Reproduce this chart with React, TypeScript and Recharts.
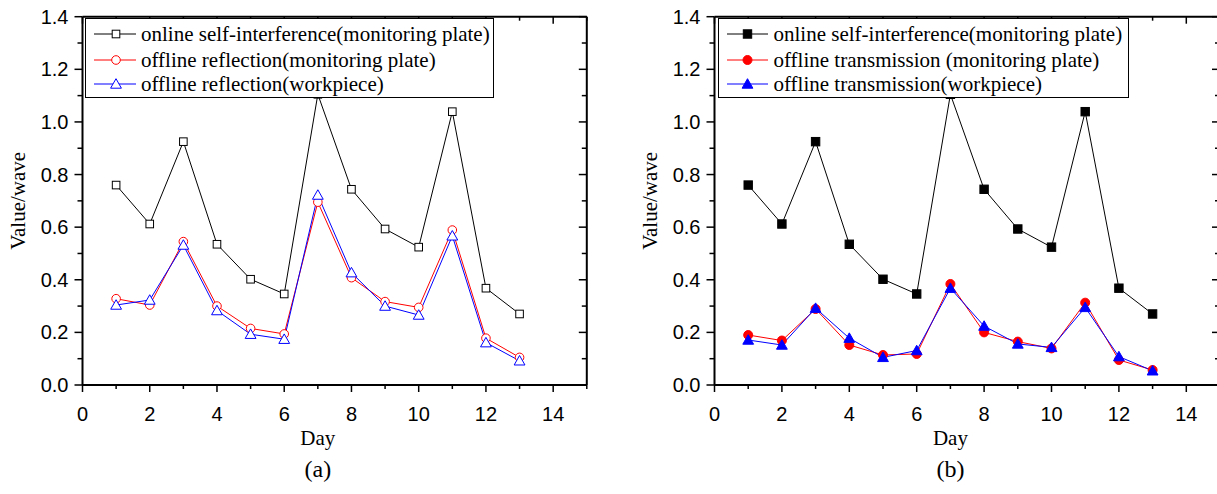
import React from 'react';
import { LineChart, Line, XAxis, YAxis, Legend, Label } from 'recharts';

const days = [1, 2, 3, 4, 5, 6, 7, 8, 9, 10, 11, 12, 13];
const onlineSelf = [0.76, 0.612, 0.925, 0.535, 0.402, 0.346, 1.105, 0.744, 0.593, 0.524, 1.039, 0.368, 0.27];
const reflMonitor = [0.328, 0.304, 0.545, 0.3, 0.215, 0.194, 0.695, 0.408, 0.317, 0.295, 0.589, 0.178, 0.105];
const reflWork = [0.304, 0.323, 0.532, 0.283, 0.193, 0.174, 0.722, 0.427, 0.3, 0.266, 0.567, 0.161, 0.092];
const transMonitor = [0.19, 0.169, 0.289, 0.152, 0.114, 0.118, 0.384, 0.2, 0.165, 0.139, 0.313, 0.095, 0.057];
const transWork = [0.171, 0.152, 0.292, 0.178, 0.105, 0.131, 0.368, 0.224, 0.156, 0.143, 0.295, 0.108, 0.054];

const xTicks = [0, 1, 2, 3, 4, 5, 6, 7, 8, 9, 10, 11, 12, 13, 14, 15];
const yTicks = [0, 0.1, 0.2, 0.3, 0.4, 0.5, 0.6, 0.7, 0.8, 0.9, 1.0, 1.1, 1.2, 1.3, 1.4];

const legendA = [
  'online self-interference(monitoring plate)',
  'offline reflection(monitoring plate)',
  'offline reflection(workpiece)',
];
const legendB = [
  'online self-interference(monitoring plate)',
  'offline transmission (monitoring plate)',
  'offline transmission(workpiece)',
];

const dataA = days.map((d, i) => ({ day: d, s1: onlineSelf[i], s2: reflMonitor[i], s3: reflWork[i] }));
const dataB = days.map((d, i) => ({ day: d, s1: onlineSelf[i], s2: transMonitor[i], s3: transWork[i] }));

const SANS = "'Liberation Sans', Arial, sans-serif";
const SERIF = "'Liberation Serif', 'Times New Roman', serif";
const COLORS = ['#000000', '#ff0000', '#0000ff'];
const SHAPES = ['square', 'circle', 'triangle'];

function Marker({ shape, color, filled, cx, cy }: any) {
  if (cx == null || cy == null) return null;
  const fill = filled ? color : '#ffffff';
  if (shape === 'square') {
    const h = filled ? 4.2 : 3.8;
    return <rect x={cx - h} y={cy - h} width={2 * h} height={2 * h} fill={fill} stroke={color} strokeWidth={1} />;
  }
  if (shape === 'circle') {
    return <circle cx={cx} cy={cy} r={filled ? 4.5 : 4.3} fill={fill} stroke={color} strokeWidth={1} />;
  }
  const w = 5.4;
  return (
    <polygon
      points={`${cx},${cy - 5.3} ${cx - w},${cy + 4.2} ${cx + w},${cy + 4.2}`}
      fill={fill}
      stroke={color}
      strokeWidth={1}
    />
  );
}

const isMajorX = (v: number) => v % 2 === 0;
const isMajorY = (v: number) => Math.round(v * 10) % 2 === 0;

const BottomTick = (p: any) => {
  const v = p.payload.value;
  const major = isMajorX(v);
  return (
    <g>
      <line x1={p.x} y1={p.y} x2={p.x} y2={p.y + (major ? 7 : 4)} stroke="#000" strokeWidth={1.5} />
      {major && v <= 14 ? (
        <text x={p.x} y={p.y + 29} textAnchor="middle" dominantBaseline="central" fontFamily={SANS} fontSize={20} fill="#000">
          {v}
        </text>
      ) : null}
    </g>
  );
};
const TopTick = (p: any) => {
  const major = isMajorX(p.payload.value);
  return <line x1={p.x} y1={p.y} x2={p.x} y2={p.y + (major ? 7 : 4)} stroke="#000" strokeWidth={1.5} />;
};
const LeftTick = (p: any) => {
  const v = p.payload.value;
  const major = isMajorY(v);
  return (
    <g>
      <line x1={p.x} y1={p.y} x2={p.x - (major ? 8 : 5)} y2={p.y} stroke="#000" strokeWidth={1.5} />
      {major ? (
        <text x={p.x - 14} y={p.y} textAnchor="end" dominantBaseline="central" fontFamily={SANS} fontSize={20} fill="#000">
          {v.toFixed(1)}
        </text>
      ) : null}
    </g>
  );
};
const RightTick = (p: any) => {
  const major = isMajorY(p.payload.value);
  return <line x1={p.x} y1={p.y} x2={p.x - (major ? 8 : 5)} y2={p.y} stroke="#000" strokeWidth={1.5} />;
};

function LegendBox({ labels, filled, width, sampleX0, sampleX1, markerX, textX }: any) {
  const rows = [15, 41, 65];
  return (
    <div
      style={{
        position: 'relative',
        width,
        height: 80,
        border: '1px solid #000',
        background: '#fff',
        boxSizing: 'border-box',
      }}
    >
      {labels.map((t: string, i: number) => (
        <div key={i} style={{ position: 'absolute', left: 0, top: rows[i] - 13, height: 26, width: '100%' }}>
          <svg width={textX} height={26} style={{ position: 'absolute', left: 0, top: 0 }}>
            <line x1={sampleX0} y1={13} x2={sampleX1} y2={13} stroke={COLORS[i]} strokeWidth={1} />
            <Marker shape={SHAPES[i]} color={COLORS[i]} filled={filled} cx={markerX} cy={13} />
          </svg>
          <span
            style={{
              position: 'absolute',
              left: textX,
              top: 0,
              lineHeight: '26px',
              fontFamily: SERIF,
              fontSize: 21,
              whiteSpace: 'nowrap',
              color: '#000',
            }}
          >
            {t}
          </span>
        </div>
      ))}
    </div>
  );
}

function Panel({ data, labels, filled, caption, width, margin, legendLeft, legendWidth, sample }: any) {
  return (
    <LineChart width={width} height={494} data={data} margin={margin}>
      <XAxis
        xAxisId="b"
        type="number"
        dataKey="day"
        domain={[0, 15]}
        ticks={xTicks}
        interval={0}
        height={1}
        tickSize={0}
        tickMargin={0}
        tick={BottomTick}
        tickLine={false}
        axisLine={{ stroke: '#000', strokeWidth: 2 }}
        allowDataOverflow
      >
        <Label
          content={(lp: any) => {
            const vb = lp.viewBox;
            const cx = vb.x + (vb.width * 7) / 15;
            return (
              <g>
                <text x={cx} y={vb.y + 53} textAnchor="middle" dominantBaseline="central" fontFamily={SERIF} fontSize={21} fill="#000">
                  Day
                </text>
                <text x={cx} y={vb.y + 84} textAnchor="middle" dominantBaseline="central" fontFamily={SERIF} fontSize={24} fill="#000">
                  {caption}
                </text>
              </g>
            );
          }}
        />
      </XAxis>
      <XAxis
        xAxisId="t"
        orientation="top"
        type="number"
        dataKey="day"
        domain={[0, 15]}
        ticks={xTicks}
        interval={0}
        height={1}
        tickSize={0}
        tickMargin={0}
        tick={TopTick}
        tickLine={false}
        axisLine={{ stroke: '#000', strokeWidth: 2 }}
        allowDataOverflow
      />
      <YAxis
        yAxisId="l"
        type="number"
        domain={[0, 1.4]}
        ticks={yTicks}
        interval={0}
        width={1}
        tickSize={0}
        tickMargin={0}
        tick={LeftTick}
        tickLine={false}
        axisLine={{ stroke: '#000', strokeWidth: 2 }}
        allowDataOverflow
      >
        <Label
          content={(lp: any) => {
            const vb = lp.viewBox;
            const x = vb.x + vb.width - 64.5;
            const y = vb.y + vb.height / 2;
            return (
              <text
                transform={`translate(${x},${y}) rotate(-90)`}
                textAnchor="middle"
                dominantBaseline="central"
                fontFamily={SERIF}
                fontSize={21}
                fill="#000"
              >
                Value/wave
              </text>
            );
          }}
        />
      </YAxis>
      <YAxis
        yAxisId="r"
        orientation="right"
        type="number"
        domain={[0, 1.4]}
        ticks={yTicks}
        interval={0}
        width={1}
        tickSize={0}
        tickMargin={0}
        tick={RightTick}
        tickLine={false}
        axisLine={{ stroke: '#000', strokeWidth: 2 }}
        allowDataOverflow
      />
      {['s1', 's2', 's3'].map((k, i) => (
        <Line
          key={k}
          xAxisId="b"
          yAxisId="l"
          dataKey={k}
          stroke={COLORS[i]}
          strokeWidth={1}
          isAnimationActive={false}
          dot={(dp: any) => (
            <Marker key={`${k}-${dp.index}`} shape={SHAPES[i]} color={COLORS[i]} filled={filled} cx={dp.cx} cy={dp.cy} />
          )}
          activeDot={false}
        />
      ))}
      <Legend
        layout="vertical"
        align="center"
        verticalAlign="middle"
        wrapperStyle={{ position: 'absolute', left: legendLeft, top: 18, width: legendWidth, height: 80 }}
        content={() => (
          <LegendBox
            labels={labels}
            filled={filled}
            width={legendWidth}
            sampleX0={sample[0]}
            sampleX1={sample[1]}
            markerX={sample[2]}
            textX={sample[3]}
          />
        )}
      />
    </LineChart>
  );
}

export default function App() {
  return (
    <div style={{ position: 'absolute', left: 0, top: 0, width: 1217, height: 494, overflow: 'hidden', background: '#fff' }}>
      <div style={{ position: 'absolute', left: 0, top: 0 }}>
        <Panel
          data={dataA}
          labels={legendA}
          filled={false}
          caption="(a)"
          width={600}
          margin={{ left: 81.5, top: 15.7, right: 12.2, bottom: 108 }}
          legendLeft={85}
          legendWidth={409}
          sample={[8, 50, 30, 55]}
        />
      </div>
      <div style={{ position: 'absolute', left: 620, top: 0 }}>
        <Panel
          data={dataB}
          labels={legendB}
          filled={true}
          caption="(b)"
          width={620}
          margin={{ left: 93.5, top: 15.7, right: 19, bottom: 108 }}
          legendLeft={98}
          legendWidth={411}
          sample={[8, 49, 28.5, 54.5]}
        />
      </div>
    </div>
  );
}
